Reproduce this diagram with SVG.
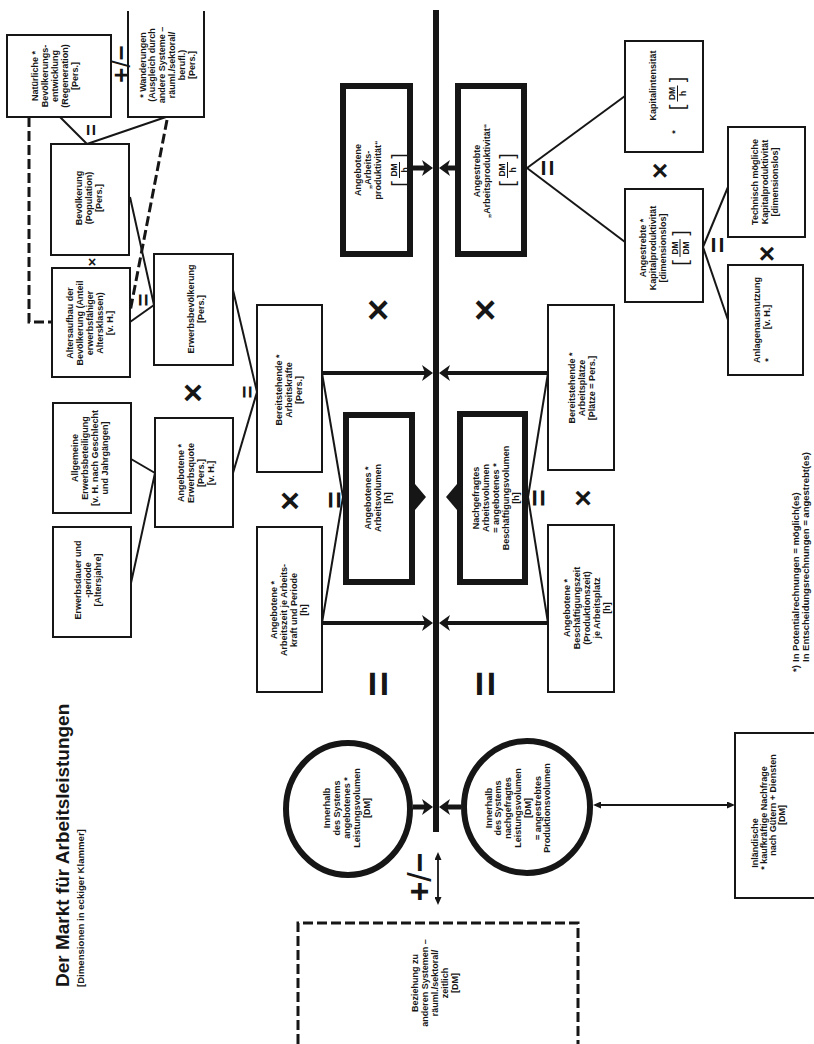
<svg xmlns="http://www.w3.org/2000/svg" width="814" height="1044" viewBox="0 0 814 1044">
  <style>
    .box { fill: none; stroke: #161616; stroke-width: 2; }
    .thick { fill: none; stroke: #161616; stroke-width: 6; }
    .ln { fill: none; stroke: #161616; stroke-width: 2; }
    .dash { fill: none; stroke: #161616; stroke-width: 3; stroke-dasharray: 10 4; }
    .arr { fill: none; stroke: #161616; stroke-width: 4; marker-end: url(#head); }
    .arr5 { stroke-width: 5; }
    .dbl { fill: none; stroke: #161616; stroke-width: 1.8; marker-start: url(#tip); marker-end: url(#tip); }
    .axis { fill: none; stroke: #161616; stroke-width: 6; }
    text { font-family: "Liberation Sans", Arial, Helvetica, sans-serif; fill: #161616; }
    .t text { font-weight: bold; font-size: 9px; text-anchor: middle; dominant-baseline: central; }
    .fr text { font-weight: bold; font-size: 8.5px; text-anchor: middle; dominant-baseline: central; }
    .fr text.br { font-weight: normal; font-size: 20px; }
    .fr line { stroke: #161616; stroke-width: 1; }
    .op { font-weight: bold; text-anchor: middle; dominant-baseline: central; }
    .title { font-weight: bold; font-size: 19px; }
    .sub { font-weight: bold; font-size: 9.6px; }
    .note { font-weight: bold; font-size: 9.5px; dominant-baseline: central; }
  </style>
  <defs>
    <marker id="head" viewBox="0 0 11 18" refX="4" refY="9" markerWidth="11" markerHeight="18" markerUnits="userSpaceOnUse" orient="auto">
      <path d="M0,1 L11,9 L0,17 L3,9 Z" fill="#161616"/>
    </marker>
    <marker id="tip" viewBox="0 0 8 7" refX="6" refY="3.5" markerWidth="8" markerHeight="7" markerUnits="userSpaceOnUse" orient="auto-start-reverse">
      <path d="M0,0 L8,3.5 L0,7 Z" fill="#161616"/>
    </marker>
  </defs>
  <rect width="814" height="1044" fill="#ffffff"/>

  <!-- title -->
  <text class="title" transform="translate(69,987) rotate(-90)">Der Markt für Arbeitsleistungen</text>
  <text class="sub" transform="translate(84,987) rotate(-90)">[Dimensionen in eckiger Klammer]</text>

  <!-- connectors -->
  <g id="connectors">
    <line class="axis" x1="436" y1="10" x2="436" y2="832"/>
    <path class="ln" d="M60,117 L87,144"/>
    <path class="ln" d="M166,117 L87,144"/>
    <path class="ln" d="M130,197 L154,305"/>
    <path class="ln" d="M130,322 L154,305"/>
    <path class="ln" d="M233,290 L257,392"/>
    <path class="ln" d="M233,473 L257,392"/>
    <path class="ln" d="M131,459 L155,473"/>
    <path class="ln" d="M131,583 L155,473"/>
    <path class="ln" d="M322,373 L343,497"/>
    <path class="ln" d="M322,623 L343,497"/>
    <path class="ln" d="M548,373 L528,497"/>
    <path class="ln" d="M548,623 L528,497"/>
    <path class="ln" d="M527,168 L625,96"/>
    <path class="ln" d="M527,168 L625,242"/>
    <path class="ln" d="M703,247 L728,187"/>
    <path class="ln" d="M703,247 L728,320"/>
    <path class="dash" d="M29,117 V322 H52"/>
    <path class="dash" d="M167,120 L130,312"/>
    <path class="arr arr5" d="M413,168 H426"/>
    <path class="arr arr5" d="M455,168 H446"/>
    <path class="arr" d="M322,373 H426"/>
    <path class="arr" d="M548,373 H446"/>
    <path class="arr" d="M322,623 H426"/>
    <path class="arr" d="M548,623 H446"/>
    <path class="arr arr5" d="M413,807 H426"/>
    <path class="arr arr5" d="M461,807 H446"/>
    <path class="dbl" d="M438,854 V903"/>
    <path class="dbl" d="M595,805 H733"/>
    <polygon points="415,484 426,497 415,510" fill="#161616"/>
    <polygon points="457,484 446,497 457,510" fill="#161616"/>
  </g>

  <!-- operators on the links -->
  <g id="operators">
    <text class="op" transform="translate(121,64) rotate(-90)" font-size="26">+<tspan font-weight="normal">/</tspan>−</text>
    <text class="op" transform="translate(419,877) rotate(-90)" font-size="34">+<tspan font-weight="normal">/</tspan>−</text>
    <text class="op" transform="translate(91,130) rotate(-90)" font-size="20">=</text>
    <text class="op" transform="translate(143,300) rotate(-90)" font-size="22">=</text>
    <text class="op" transform="translate(247,392) rotate(-90)" font-size="22">=</text>
    <text class="op" transform="translate(334,500) rotate(-90)" font-size="30">=</text>
    <text class="op" transform="translate(538,498) rotate(-90)" font-size="30">=</text>
    <text class="op" transform="translate(547,168) rotate(-90)" font-size="28">=</text>
    <text class="op" transform="translate(717,245) rotate(-90)" font-size="28">=</text>
    <text class="op" transform="translate(378,684) rotate(-90)" font-size="44">=</text>
    <text class="op" transform="translate(485,684) rotate(-90)" font-size="44">=</text>
    <text class="op" x="92" y="262" font-size="14">×</text>
    <text class="op" x="193" y="392" font-size="34">×</text>
    <text class="op" x="290" y="500" font-size="34">×</text>
    <text class="op" x="583" y="497" font-size="30">×</text>
    <text class="op" x="660" y="170" font-size="28">×</text>
    <text class="op" x="767" y="253" font-size="28">×</text>
    <text class="op" x="378" y="310" font-size="38">×</text>
    <text class="op" x="485" y="310" font-size="38">×</text>
  </g>

  <g id="n-natuerliche">
    <rect class="box" x="7" y="35" width="104" height="82"/>
    <g class="t" transform="translate(55,76) rotate(-90)">
      <text y="-19.6">Natürliche *</text>
      <text y="-9.8">Bevölkerungs-</text>
      <text y="0">entwicklung</text>
      <text y="9.8">(Regeneration)</text>
      <text y="19.6">[Pers.]</text>
    </g>
  </g>

  <g id="n-wanderungen">
    <path class="box" d="M128,11 V117 H204 V11"/>
    <g class="t" transform="translate(167,65) rotate(-90)">
      <text y="-24.5">* Wanderungen</text>
      <text y="-14.7">(Ausgleich durch</text>
      <text y="-4.9">andere Systeme –</text>
      <text y="4.9">räuml./sektoral/</text>
      <text y="14.7">berufl.)</text>
      <text y="24.5">[Pers.]</text>
    </g>
  </g>

  <g id="n-bevoelkerung">
    <rect class="box" x="51" y="144" width="78" height="111"/>
    <g class="t" transform="translate(89,198) rotate(-90)">
      <text y="-9.8">Bevölkerung</text>
      <text y="0">(Population)</text>
      <text y="9.8">[Pers.]</text>
    </g>
  </g>

  <g id="n-altersaufbau">
    <rect class="box" x="52" y="268" width="78" height="109"/>
    <g class="t" transform="translate(90,323) rotate(-90)">
      <text y="-19.6">Altersaufbau der</text>
      <text y="-9.8">Bevölkerung (Anteil</text>
      <text y="0">erwerbsfähiger</text>
      <text y="9.8">Altersklassen)</text>
      <text y="19.6">[v. H.]</text>
    </g>
  </g>

  <g id="n-erwerbsbevoelkerung">
    <rect class="box" x="154" y="254" width="79" height="111"/>
    <g class="t" transform="translate(196,309) rotate(-90)">
      <text y="-4.9">Erwerbsbevölkerung</text>
      <text y="4.9">[Pers.]</text>
    </g>
  </g>

  <g id="n-allgemeine">
    <rect class="box" x="53" y="403" width="78" height="110"/>
    <g class="t" transform="translate(90,458) rotate(-90)">
      <text y="-14.7">Allgemeine</text>
      <text y="-4.9">Erwerbsbeteiligung</text>
      <text y="4.9">[v. H. nach Geschlecht</text>
      <text y="14.7">und Jahrgängen]</text>
    </g>
  </g>

  <g id="n-erwerbsdauer">
    <rect class="box" x="53" y="527" width="78" height="110"/>
    <g class="t" transform="translate(88,580) rotate(-90)">
      <text y="-9.8">Erwerbsdauer und</text>
      <text y="0">-periode</text>
      <text y="9.8">[Altersjahre]</text>
    </g>
  </g>

  <g id="n-erwerbsquote">
    <rect class="box" x="155" y="418" width="78" height="109"/>
    <g class="t" transform="translate(196,473) rotate(-90)">
      <text y="-14.7">Angebotene *</text>
      <text y="-4.9">Erwerbsquote</text>
      <text y="4.9">[Pers.]</text>
      <text y="14.7">[v. H.]</text>
    </g>
  </g>

  <g id="n-bereitstehende-arbeitskraefte">
    <rect class="box" x="257" y="305" width="65" height="167"/>
    <g class="t" transform="translate(289,390) rotate(-90)">
      <text y="-9.8">Bereitstehende *</text>
      <text y="0">Arbeitskräfte</text>
      <text y="9.8">[Pers.]</text>
    </g>
  </g>

  <g id="n-angebotenes-arbeitsvolumen">
    <rect class="thick" x="346" y="415" width="66" height="167"/>
    <g class="t" transform="translate(378,498) rotate(-90)">
      <text y="-9.8">Angebotenes *</text>
      <text y="0">Arbeitsvolumen</text>
      <text y="9.8">[h]</text>
    </g>
  </g>

  <g id="n-angebotene-arbeitszeit">
    <rect class="box" x="257" y="527" width="65" height="165"/>
    <g class="t" transform="translate(289,610) rotate(-90)">
      <text y="-14.7">Angebotene *</text>
      <text y="-4.9">Arbeitszeit je Arbeits-</text>
      <text y="4.9">kraft und Periode</text>
      <text y="14.7">[h]</text>
    </g>
  </g>

  <g id="n-angebotene-arbeitsproduktivitaet">
    <rect class="thick" x="343" y="86" width="67" height="168"/>
    <g class="t" transform="translate(376,170) rotate(-90)">
      <text y="-18">Angebotene</text>
      <text y="-8">„Arbeits-</text>
      <text y="2">produktivität“</text>
    </g>
    <g class="fr" transform="translate(399,170) rotate(-90)">
      <text y="-5">DM</text>
      <line x1="-8" y1="0.5" x2="8" y2="0.5"/>
      <text y="5.5">h</text>
      <text class="br" x="-14" y="0">[</text>
      <text class="br" x="14" y="0">]</text>
    </g>
  </g>

  <g id="n-angestrebte-arbeitsproduktivitaet">
    <rect class="thick" x="458" y="86" width="66" height="168"/>
    <g class="t" transform="translate(491,171) rotate(-90)">
      <text y="-14">Angestrebte</text>
      <text y="-4">„Arbeitsproduktivität“</text>
    </g>
    <g class="fr" transform="translate(507,170) rotate(-90)">
      <text y="-5">DM</text>
      <line x1="-8" y1="0.5" x2="8" y2="0.5"/>
      <text y="5.5">h</text>
      <text class="br" x="-14" y="0">[</text>
      <text class="br" x="14" y="0">]</text>
    </g>
  </g>

  <g id="n-nachgefragtes-arbeitsvolumen">
    <rect class="thick" x="460" y="414" width="65" height="168"/>
    <g class="t" transform="translate(496,498) rotate(-90)">
      <text y="-19.6">Nachgefragtes</text>
      <text y="-9.8">Arbeitsvolumen</text>
      <text y="0">= angebotenes *</text>
      <text y="9.8">Beschäftigungsvolumen</text>
      <text y="19.6">[h]</text>
    </g>
  </g>

  <g id="n-bereitstehende-arbeitsplaetze">
    <rect class="box" x="548" y="305" width="66" height="165"/>
    <g class="t" transform="translate(582,388) rotate(-90)">
      <text y="-9.8">Bereitstehende *</text>
      <text y="0">Arbeitsplätze</text>
      <text y="9.8">[Plätze = Pers.]</text>
    </g>
  </g>

  <g id="n-beschaeftigungszeit">
    <rect class="box" x="548" y="525" width="66" height="167"/>
    <g class="t" transform="translate(587,608) rotate(-90)">
      <text y="-19.6">Angebotene *</text>
      <text y="-9.8">Beschäftigungszeit</text>
      <text y="0">(Produktionszeit)</text>
      <text y="9.8">je Arbeitsplatz</text>
      <text y="19.6">[h]</text>
    </g>
  </g>

  <g id="n-kapitalintensitaet">
    <rect class="box" x="625" y="41" width="78" height="111"/>
    <g class="t" transform="translate(664,96.5) rotate(-90)">
      <text x="11" y="-11">Kapitalintensität</text>
      <text x="-35.5" y="11">*</text>
    </g>
    <g class="fr" transform="translate(677,93.5) rotate(-90)">
      <text y="-5">DM</text>
      <line x1="-8" y1="0.5" x2="8" y2="0.5"/>
      <text y="5.5">h</text>
      <text class="br" x="-14" y="0">[</text>
      <text class="br" x="14" y="0">]</text>
    </g>
  </g>

  <g id="n-kapitalproduktivitaet">
    <rect class="box" x="625" y="189" width="78" height="113"/>
    <g class="t" transform="translate(664,248) rotate(-90)">
      <text y="-21">Angestrebte *</text>
      <text y="-11">Kapitalproduktivität</text>
      <text y="-1">[dimensionslos]</text>
    </g>
    <g class="fr" transform="translate(680,248) rotate(-90)">
      <text y="-5.5">DM</text>
      <line x1="-9" y1="0" x2="9" y2="0"/>
      <text y="5.5">DM</text>
      <text class="br" x="-15" y="0">[</text>
      <text class="br" x="15" y="0">]</text>
    </g>
  </g>

  <g id="n-technisch">
    <rect class="box" x="728" y="127" width="77" height="110"/>
    <g class="t" transform="translate(765,182) rotate(-90)">
      <text y="-9.8">Technisch mögliche</text>
      <text y="0">Kapitalproduktivität</text>
      <text y="9.8">[dimensionslos]</text>
    </g>
  </g>

  <g id="n-anlagenausnutzung">
    <rect class="box" x="728" y="265" width="75" height="110"/>
    <g class="t" transform="translate(765.5,320) rotate(-90)">
      <text y="-8.5">Anlagenausnutzung</text>
      <text x="3" y="1.5">[v. H.]</text>
      <text x="-40" y="2">*</text>
    </g>
  </g>

  <g id="n-leistung-angeboten">
    <ellipse class="thick" cx="348" cy="809" rx="62" ry="66"/>
    <g class="t" transform="translate(347,808) rotate(-90)">
      <text y="-19.6">Innerhalb</text>
      <text y="-9.8">des Systems</text>
      <text y="0">angebotenes *</text>
      <text y="9.8">Leistungsvolumen</text>
      <text y="19.6">[DM]</text>
    </g>
  </g>

  <g id="n-leistung-nachgefragt">
    <ellipse class="thick" cx="527" cy="807" rx="63" ry="66"/>
    <g class="t" transform="translate(518,808) rotate(-90)">
      <text y="-29.4">Innerhalb</text>
      <text y="-19.6">des Systems</text>
      <text y="-9.8">nachgefragtes</text>
      <text y="0">Leistungsvolumen</text>
      <text y="9.8">[DM]</text>
      <text y="19.6">= angestrebtes</text>
      <text y="29.4">Produktionsvolumen</text>
    </g>
  </g>

  <g id="n-inlandsnachfrage">
    <path class="box" d="M816,733 H735 V898 H816"/>
    <g class="t" transform="translate(768,805) rotate(-90)">
      <text x="-38" y="-13.5">Inländische</text>
      <text x="-13" y="-4.5">* kaufkräftige Nachfrage</text>
      <text x="0" y="4.5">nach Gütern + Diensten</text>
      <text x="-10" y="13.5">[DM]</text>
    </g>
  </g>

  <g id="n-andere-systeme">
    <path class="dash" d="M298,1044 V923 H578 V1044"/>
    <g class="t" transform="translate(435,983) rotate(-90)">
      <text y="-19.6">Beziehung zu</text>
      <text y="-9.8">anderen Systemen –</text>
      <text y="0">räuml./sektoral/</text>
      <text y="9.8">zeitlich</text>
      <text y="19.6">[DM]</text>
    </g>
  </g>

  <!-- footnote -->
  <g id="footnote" transform="translate(795,662) rotate(-90)">
    <text class="note" x="-3" y="0" text-anchor="end" font-size="12">*)</text>
    <text class="note" x="0" y="0">In Potentialrechnungen = möglich(es)</text>
    <text class="note" x="0" y="10">In Entscheidungsrechnungen = angestrebt(es)</text>
  </g>
</svg>
